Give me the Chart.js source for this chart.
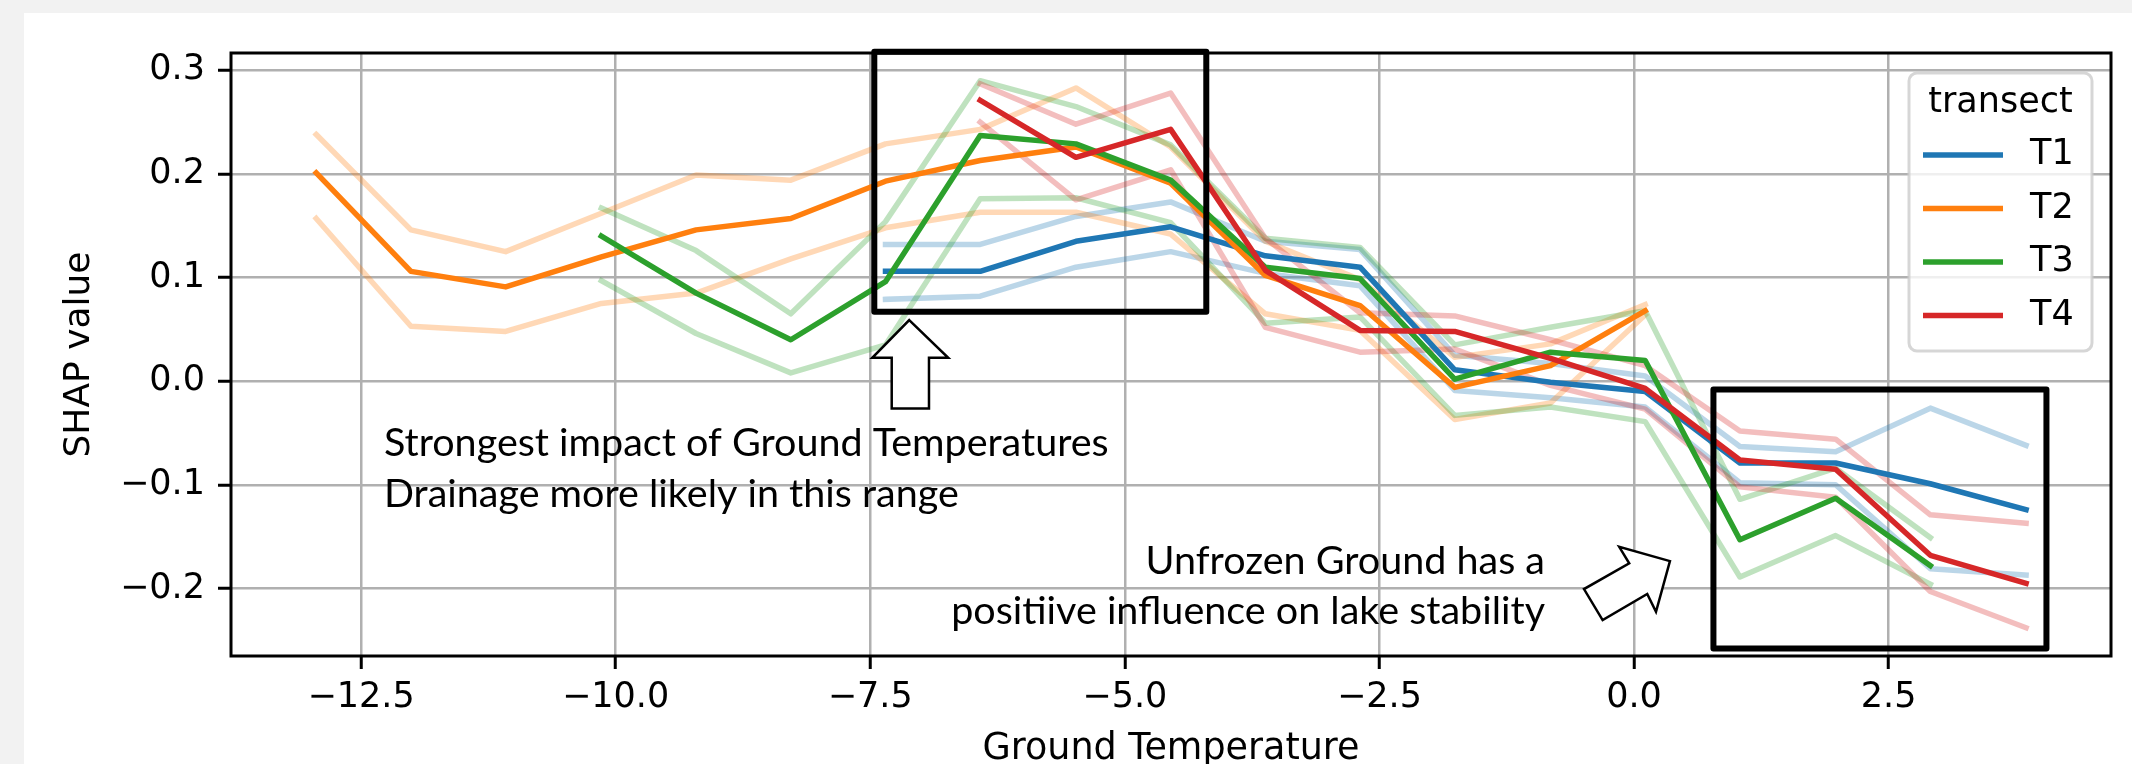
<!DOCTYPE html>
<html>
<head>
<meta charset="utf-8">
<script src="https://cdn.jsdelivr.net/npm/chart.js@4.4.1/dist/chart.umd.min.js"></script>
<style>
  html, body { margin: 0; padding: 0; background: #f2f2f2; }
  canvas { display: block; }
</style>
</head>
<body>
<canvas id="chart" width="2132" height="764"></canvas>
<script>
// ground temperature bins (x values)
const temps = [-12.94, -12.01, -11.08, -10.14, -9.21, -8.28, -7.35, -6.42, -5.48, -4.55,
               -3.62, -2.69, -1.76, -0.82, 0.11, 1.04, 1.98, 2.91, 3.85];

const transects = ['T1', 'T2', 'T3', 'T4'];

// mean SHAP value per bin, with the upper / lower band lines
const t1Mean  = [null, null, null, null, null, null, 0.106, 0.106, 0.135, 0.149, 0.121, 0.110, 0.011, -0.001, -0.010, -0.079, -0.079, -0.099, -0.124];
const t1Upper = [null, null, null, null, null, null, 0.132, 0.132, 0.159, 0.173, 0.135, 0.127, 0.025, 0.017, 0.005, -0.063, -0.068, -0.026, -0.062];
const t1Lower = [null, null, null, null, null, null, 0.079, 0.082, 0.110, 0.125, 0.104, 0.092, -0.009, -0.016, -0.025, -0.098, -0.100, -0.181, -0.187];

const t2Mean  = [0.201, 0.106, 0.091, 0.120, 0.146, 0.157, 0.193, 0.213, 0.226, 0.191, 0.102, 0.073, -0.006, 0.015, 0.068, null, null, null, null];
const t2Upper = [0.238, 0.146, 0.125, 0.162, 0.199, 0.194, 0.229, 0.243, 0.283, 0.226, 0.135, 0.098, 0.023, 0.036, 0.074, null, null, null, null];
const t2Lower = [0.157, 0.053, 0.048, 0.075, 0.085, 0.118, 0.148, 0.163, 0.163, 0.142, 0.065, 0.049, -0.037, -0.021, 0.064, null, null, null, null];

const t3Mean  = [null, null, null, 0.140, 0.085, 0.040, 0.096, 0.237, 0.229, 0.194, 0.110, 0.099, 0.002, 0.028, 0.020, -0.153, -0.113, -0.178, null];
const t3Upper = [null, null, null, 0.167, 0.126, 0.065, 0.154, 0.290, 0.265, 0.228, 0.138, 0.129, 0.035, 0.052, 0.068, -0.114, -0.084, -0.151, null];
const t3Lower = [null, null, null, 0.097, 0.046, 0.008, 0.035, 0.176, 0.177, 0.153, 0.056, 0.062, -0.033, -0.025, -0.039, -0.189, -0.149, -0.196, null];

const t4Mean  = [null, null, null, null, null, null, null, 0.271, 0.216, 0.243, 0.107, 0.049, 0.048, 0.022, -0.007, -0.076, -0.085, -0.168, -0.195];
const t4Upper = [null, null, null, null, null, null, null, 0.287, 0.248, 0.278, 0.138, 0.066, 0.063, 0.040, 0.015, -0.048, -0.056, -0.129, -0.137];
const t4Lower = [null, null, null, null, null, null, null, 0.250, 0.175, 0.204, 0.052, 0.028, 0.031, -0.004, -0.027, -0.102, -0.112, -0.203, -0.238];

const xTicks = [-12.5, -10, -7.5, -5, -2.5, 0, 2.5];
const yTicks = [-0.2, -0.1, 0, 0.1, 0.2, 0.3];

// annotation boxes, arrows and notes in data units
const box1 = { x0: -7.46, x1: -4.20, y0: 0.067, y1: 0.318 };
const box2 = { x0: 0.78, x1: 4.05, y0: -0.258, y1: -0.008 };
const arrowUp = [[-7.117, 0.059], [-6.734, 0.0225], [-6.923, 0.0225], [-6.923, -0.0263],
                 [-7.289, -0.0263], [-7.289, 0.0225], [-7.480, 0.0225]];
const arrowDiag = [[0.353, -0.1736], [-0.145, -0.1598], [-0.047, -0.1758], [-0.491, -0.2006],
                   [-0.308, -0.2305], [0.130, -0.2054], [0.216, -0.2225]];
const note1 = ['Strongest impact of Ground Temperatures', 'Drainage more likely in this range'];
const note1Pos = { x: -12.275, y: [-0.072, -0.121] };
const note2 = ['Unfrozen Ground has a', 'positiive influence on lake stability'];
const note2Pos = { x: -0.874, y: [-0.186, -0.234] };

const colors = ['31,119,180', '255,127,14', '44,160,44', '214,39,40'];
const means = [t1Mean, t2Mean, t3Mean, t4Mean];
const uppers = [t1Upper, t2Upper, t3Upper, t4Upper];
const lowers = [t1Lower, t2Lower, t3Lower, t4Lower];

function toPoints(arr) {
  return temps.map((x, i) => ({ x: x, y: arr[i] })).filter(p => p.y !== null);
}

const datasets = [];
transects.forEach((name, i) => {
  [uppers[i], lowers[i]].forEach(band => {
    datasets.push({
      label: name + ' band',
      data: toPoints(band),
      borderColor: 'rgba(' + colors[i] + ',0.3)',
      borderWidth: 5.5,
      order: 20 - i
    });
  });
  datasets.push({
    label: name,
    data: toPoints(means[i]),
    borderColor: 'rgb(' + colors[i] + ')',
    borderWidth: 5.5,
    order: 4 - i
  });
});

function fmt(v) {
  return v.toFixed(1).replace('-', '\u2212');
}

const bgPlugin = {
  id: 'bg',
  beforeDraw(chart) {
    const ctx = chart.ctx;
    ctx.save();
    ctx.fillStyle = '#f2f2f2';
    ctx.fillRect(0, 0, chart.width, chart.height);
    ctx.fillStyle = '#ffffff';
    ctx.fillRect(24, 13, chart.width - 24, chart.height - 13);
    ctx.restore();
  }
};

const notesPlugin = {
  id: 'notes',
  afterDatasetsDraw(chart) {
    const ctx = chart.ctx;
    const xs = chart.scales.x, ys = chart.scales.y;
    const a = chart.chartArea;
    ctx.save();
    // axes frame
    ctx.strokeStyle = '#000';
    ctx.lineWidth = 3;
    ctx.strokeRect(a.left, a.top, a.right - a.left, a.bottom - a.top);

    // highlight boxes
    ctx.lineWidth = 6;
    ctx.lineJoin = 'round';
    [box1, box2].forEach(b => {
      const x0 = xs.getPixelForValue(b.x0), x1 = xs.getPixelForValue(b.x1);
      const y0 = ys.getPixelForValue(b.y0), y1 = ys.getPixelForValue(b.y1);
      ctx.strokeRect(x0, y1, x1 - x0, y0 - y1);
    });

    // arrows
    ctx.lineWidth = 2.5;
    ctx.lineJoin = 'miter';
    [arrowUp, arrowDiag].forEach(poly => {
      ctx.beginPath();
      poly.forEach((p, k) => {
        const px = xs.getPixelForValue(p[0]), py = ys.getPixelForValue(p[1]);
        if (k === 0) ctx.moveTo(px, py); else ctx.lineTo(px, py);
      });
      ctx.closePath();
      ctx.fillStyle = '#fff';
      ctx.fill();
      ctx.stroke();
    });

    // notes
    ctx.fillStyle = '#000';
    ctx.font = '39.5px Lato';
    ctx.textBaseline = 'alphabetic';
    ctx.textAlign = 'left';
    note1.forEach((t, k) => {
      ctx.fillText(t, xs.getPixelForValue(note1Pos.x), ys.getPixelForValue(note1Pos.y[k]));
    });
    ctx.textAlign = 'right';
    note2.forEach((t, k) => {
      ctx.fillText(t, xs.getPixelForValue(note2Pos.x), ys.getPixelForValue(note2Pos.y[k]));
    });
    ctx.restore();
  }
};

// matplotlib style legend in the upper right corner
const legendPlugin = {
  id: 'mplLegend',
  afterDraw(chart) {
    const ctx = chart.ctx;
    const left = 1909, top = 73, w = 183, h = 278, r = 8;
    ctx.save();
    ctx.beginPath();
    ctx.roundRect(left, top, w, h, r);
    ctx.fillStyle = 'rgba(255,255,255,0.8)';
    ctx.fill();
    ctx.strokeStyle = 'rgba(204,204,204,0.8)';
    ctx.lineWidth = 3;
    ctx.stroke();

    ctx.fillStyle = '#000';
    ctx.font = '35px "DejaVu Sans"';
    ctx.textBaseline = 'middle';
    ctx.textAlign = 'center';
    ctx.fillText('transect', left + w / 2, top + 30);
    ctx.textAlign = 'left';
    transects.forEach((name, i) => {
      const y = top + 82 + i * 53.5;
      ctx.strokeStyle = 'rgb(' + colors[i] + ')';
      ctx.lineWidth = 5.5;
      ctx.beginPath();
      ctx.moveTo(1923, y);
      ctx.lineTo(2003, y);
      ctx.stroke();
      ctx.fillStyle = '#000';
      ctx.fillText(name, 2030, y);
    });
    ctx.restore();
  }
};

Chart.defaults.font.family = 'DejaVu Sans';
Chart.defaults.font.size = 35;
Chart.defaults.color = '#000';

new Chart(document.getElementById('chart'), {
  type: 'line',
  data: { datasets: datasets },
  options: {
    responsive: false,
    animation: false,
    devicePixelRatio: 1,
    layout: { padding: { left: 0, top: 53, right: 21, bottom: 0 } },
    elements: {
      point: { radius: 0 },
      line: { tension: 0, borderCapStyle: 'square', borderJoinStyle: 'round' }
    },
    plugins: {
      legend: { display: false },
      tooltip: { enabled: false }
    },
    scales: {
      x: {
        type: 'linear',
        min: -13.777,
        max: 4.684,
        afterBuildTicks: scale => { scale.ticks = xTicks.map(v => ({ value: v })); },
        afterFit: scale => { scale.height = 108; },
        ticks: { padding: 8, maxRotation: 0, callback: v => fmt(v) },
        grid: { color: '#b0b0b0', lineWidth: 2.5, tickColor: '#000', tickWidth: 3, tickLength: 13 },
        border: { display: false },
        title: { display: true, text: 'Ground Temperature', font: { size: 36.5 }, padding: { top: 0, bottom: -7 } }
      },
      y: {
        type: 'linear',
        min: -0.2652,
        max: 0.3167,
        afterBuildTicks: scale => { scale.ticks = yTicks.map(v => ({ value: v })); },
        afterFit: scale => { scale.width = 231; },
        ticks: { padding: 13, callback: v => fmt(v) },
        grid: { color: '#b0b0b0', lineWidth: 2.5, tickColor: '#000', tickWidth: 3, tickLength: 13 },
        border: { display: false },
        title: { display: true, text: 'SHAP value', font: { size: 36 }, padding: { top: 58, bottom: 0 } }
      }
    }
  },
  plugins: [bgPlugin, notesPlugin, legendPlugin]
});
</script>
</body>
</html>
